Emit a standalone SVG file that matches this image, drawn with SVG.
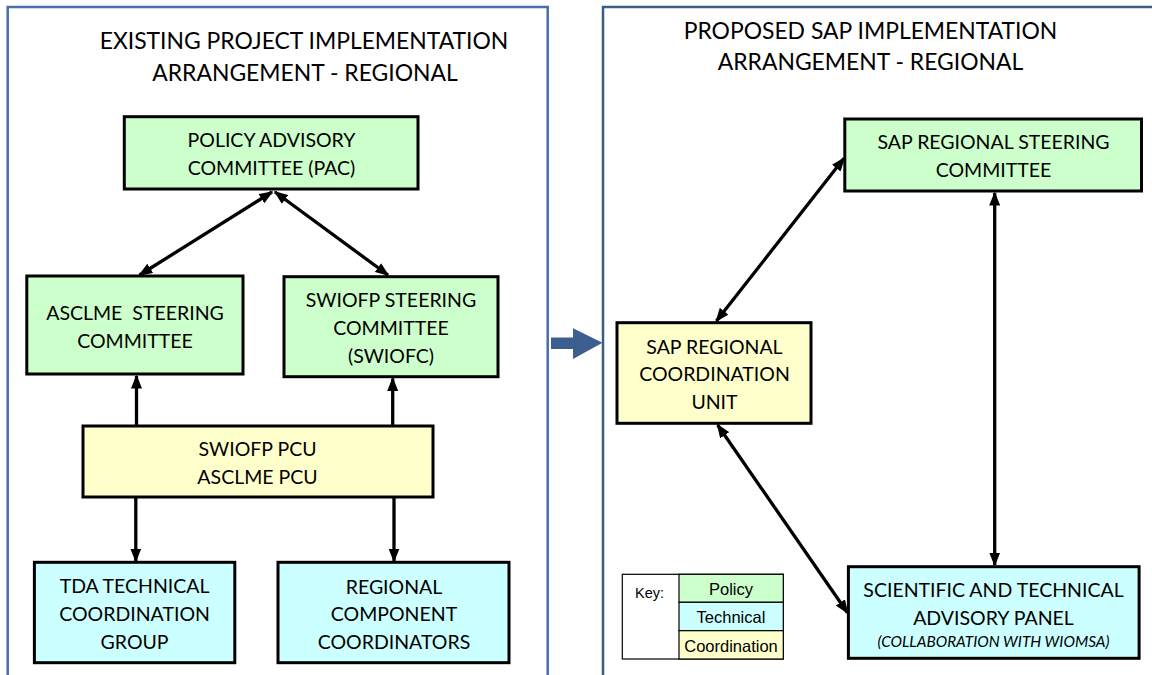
<svg xmlns="http://www.w3.org/2000/svg" width="1152" height="675" viewBox="0 0 1152 675">
<defs>
<style>
.panelL{fill:none;stroke:#4a6ea6;stroke-width:2.5}
.panelR{fill:none;stroke:#395c8c;stroke-width:2.5}
.title{font-family:Lato,"Liberation Sans",sans-serif;font-size:22.9px;fill:#000;text-anchor:middle}
.box{stroke:#000;stroke-width:3}
.pol{fill:#ccffcc}
.tec{fill:#ccffff}
.coo{fill:#ffffcc}
.t{font-family:Lato,"Liberation Sans",sans-serif;font-size:19.5px;fill:#000;text-anchor:middle}
.ti{font-family:Lato,"Liberation Sans",sans-serif;font-size:15.4px;font-style:italic;fill:#000;text-anchor:middle}
.k{font-family:"Liberation Sans",Arial,sans-serif;font-size:16.5px;fill:#000;text-anchor:middle}
.kc{stroke:#000;stroke-width:1.2}
.conn{stroke:#000;stroke-width:3.3;fill:none}
</style>
<marker id="ah" viewBox="0 0 14 11" refX="12.5" refY="5.5" markerWidth="14" markerHeight="11" markerUnits="userSpaceOnUse" orient="auto-start-reverse">
<path d="M0,0 L14,5.5 L0,11 z" fill="#000"/>
</marker>
</defs>
<rect width="1152" height="675" fill="#fff"/>

<g id="panel-existing">
<rect class="panelL" x="7.7" y="7" width="540" height="720"/>
<text class="title" x="304" y="48.5">EXISTING PROJECT IMPLEMENTATION</text>
<text class="title" x="305" y="80.5">ARRANGEMENT - REGIONAL</text>
</g>

<g id="panel-proposed">
<rect class="panelR" x="603" y="7" width="620" height="720"/>
<text class="title" x="870.5" y="38.8">PROPOSED SAP IMPLEMENTATION</text>
<text class="title" x="870.5" y="70.4">ARRANGEMENT - REGIONAL</text>
</g>

<g id="transition-arrow">
<path d="M551,337.5 L573,337.5 L573,328.3 L602.5,342.8 L573,359 L573,349 L551,349 z" fill="#3d5f8f"/>
</g>

<g id="connectors">
<line class="conn" x1="272" y1="192" x2="139.6" y2="275" marker-start="url(#ah)" marker-end="url(#ah)"/>
<line class="conn" x1="275" y1="192" x2="388" y2="275" marker-start="url(#ah)" marker-end="url(#ah)"/>
<line class="conn" x1="136.5" y1="426" x2="136.5" y2="376" marker-end="url(#ah)"/>
<line class="conn" x1="392.7" y1="426" x2="392.7" y2="378.5" marker-end="url(#ah)"/>
<line class="conn" x1="135.8" y1="497" x2="135.8" y2="561" marker-end="url(#ah)"/>
<line class="conn" x1="394" y1="497" x2="394" y2="561" marker-end="url(#ah)"/>
<line class="conn" x1="844" y1="158.3" x2="716.4" y2="321" marker-start="url(#ah)" marker-end="url(#ah)"/>
<line class="conn" x1="994.7" y1="193" x2="994.7" y2="565" marker-start="url(#ah)" marker-end="url(#ah)"/>
<line class="conn" x1="717.6" y1="425" x2="847.5" y2="612.7" marker-start="url(#ah)" marker-end="url(#ah)"/>
</g>

<g id="pac">
<rect class="box pol" x="124.3" y="116.7" width="293.7" height="72.3"/>
<text class="t" x="271.5" y="147">POLICY ADVISORY</text>
<text class="t" x="271.5" y="175">COMMITTEE (PAC)</text>
</g>

<g id="asclme-sc">
<rect class="box pol" x="26.8" y="276" width="216.2" height="98"/>
<text class="t" x="135" y="320" style="white-space:pre">ASCLME  STEERING</text>
<text class="t" x="135" y="347.7">COMMITTEE</text>
</g>

<g id="swiofp-sc">
<rect class="box pol" x="284" y="276.7" width="214" height="100"/>
<text class="t" x="391" y="307">SWIOFP STEERING</text>
<text class="t" x="391" y="334.7">COMMITTEE</text>
<text class="t" x="391" y="363">(SWIOFC)</text>
</g>

<g id="pcu">
<rect class="box coo" x="83" y="426" width="350" height="71"/>
<text class="t" x="257.5" y="456">SWIOFP PCU</text>
<text class="t" x="257.5" y="483.7">ASCLME PCU</text>
</g>

<g id="tda">
<rect class="box tec" x="34.4" y="562.3" width="200.4" height="100.4"/>
<text class="t" x="134.6" y="593">TDA TECHNICAL</text>
<text class="t" x="134.6" y="620.7">COORDINATION</text>
<text class="t" x="134.6" y="648.7">GROUP</text>
</g>

<g id="rcc">
<rect class="box tec" x="278" y="562.3" width="231" height="100.4"/>
<text class="t" x="394" y="594.3">REGIONAL</text>
<text class="t" x="394" y="621.3">COMPONENT</text>
<text class="t" x="394" y="648.7">COORDINATORS</text>
</g>

<g id="sap-rsc">
<rect class="box pol" x="844.8" y="119" width="296.7" height="72"/>
<text class="t" x="993.5" y="148.7">SAP REGIONAL STEERING</text>
<text class="t" x="993.5" y="177">COMMITTEE</text>
</g>

<g id="sap-rcu">
<rect class="box coo" x="617" y="322.7" width="194" height="100.6"/>
<text class="t" x="714.5" y="354.3">SAP REGIONAL</text>
<text class="t" x="714.5" y="381">COORDINATION</text>
<text class="t" x="714.5" y="408.7">UNIT</text>
</g>

<g id="stap">
<rect class="box tec" x="848.4" y="566.7" width="290.7" height="91.6"/>
<text class="t" x="993.5" y="597">SCIENTIFIC AND TECHNICAL</text>
<text class="t" x="993.5" y="624.7">ADVISORY PANEL</text>
<text class="ti" x="993.5" y="646.5">(COLLABORATION WITH WIOMSA)</text>
</g>

<g id="key">
<rect x="622.3" y="574.3" width="161" height="84.7" fill="#fff" stroke="#000" stroke-width="1.2"/>
<rect class="kc pol" x="679" y="574.3" width="104.3" height="28"/>
<rect class="kc tec" x="679" y="602.3" width="104.3" height="28.4"/>
<rect class="kc coo" x="679" y="630.7" width="104.3" height="28.3"/>
<text class="k" x="649.5" y="597.5" style="font-size:14.5px">Key:</text>
<text class="k" x="731" y="595">Policy</text>
<text class="k" x="731" y="623">Technical</text>
<text class="k" x="731" y="651.7">Coordination</text>
</g>
</svg>
